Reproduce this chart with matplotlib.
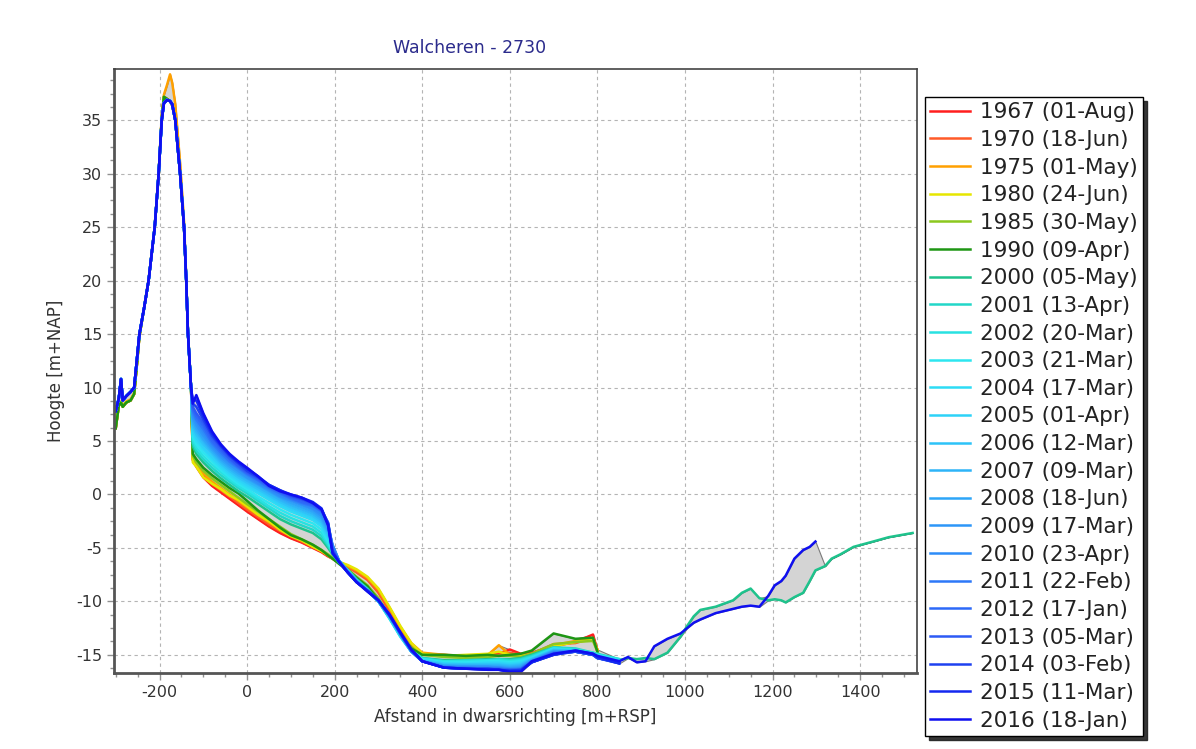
import numpy as np
import matplotlib
matplotlib.use("Agg")
import matplotlib.pyplot as plt
from matplotlib.ticker import MultipleLocator

plt.rcParams["axes.unicode_minus"] = False

# ---------------- data ----------------
labels = ["1967 (01-Aug)", "1970 (18-Jun)", "1975 (01-May)", "1980 (24-Jun)",
          "1985 (30-May)", "1990 (09-Apr)", "2000 (05-May)", "2001 (13-Apr)",
          "2002 (20-Mar)", "2003 (21-Mar)", "2004 (17-Mar)", "2005 (01-Apr)",
          "2006 (12-Mar)", "2007 (09-Mar)", "2008 (18-Jun)", "2009 (17-Mar)",
          "2010 (23-Apr)", "2011 (22-Feb)", "2012 (17-Jan)", "2013 (05-Mar)",
          "2014 (03-Feb)", "2015 (11-Mar)", "2016 (18-Jan)"]

colors = ["#ff1e1e", "#ff5a28", "#ffa000", "#e6e600", "#8cc81e", "#1e9614",
          "#1ec38c", "#22d7c8", "#28e1e1", "#2de6f0", "#2ddcf5", "#2dd2f8",
          "#2dc3f8", "#2db4f8", "#2da5f8", "#2d96f8", "#2d8cf8", "#2d78f8",
          "#2d69f8", "#2d5af5", "#1e41f0", "#1428f0", "#0f0ff0"]

# dune section (surveys coincide closely)
dune_x = [-300, -293, -288, -284, -276, -266, -258, -252, -246, -235, -225, -211,
          -202, -195, -190, -183, -176, -171, -164, -153, -144, -139, -135, -128]
dune_old = [6.2, 8.3, 8.6, 8.2, 8.6, 8.8, 9.4, 12.0, 14.8, 17.5, 20.0, 25.0,
            30.0, 35.2, 37.2, 37.0, 36.8, 36.4, 35.0, 30.0, 25.0, 20.0, 15.0, 10.0]
dune_1975 = [6.8, 8.4, 8.7, 8.3, 8.7, 8.9, 9.5, 12.1, 14.9, 17.6, 20.1, 25.1,
             30.1, 35.3, 37.4, 38.3, 39.3, 38.5, 36.5, 31.0, 25.5, 20.3, 15.2, 10.0]
dune_new = [7.8, 9.0, 10.8, 8.8, 9.2, 9.6, 10.0, 12.5, 15.0, 17.5, 20.0, 25.0,
            30.0, 35.0, 36.6, 36.9, 36.8, 36.5, 35.0, 30.0, 25.0, 20.0, 15.0, 10.0]

# beach / shoreface section
beach_x = [-124, -116, -100, -80, -60, -40, -20, 0, 25, 50, 75, 100, 125, 150, 170,
           185, 195, 210, 230, 250, 275, 300, 325, 350, 375, 400, 450, 500, 550,
           575, 600, 625, 650, 700, 750, 790, 800, 850]
nan = np.nan
y1967 = [3.2, 2.6, 1.6, 0.8, 0.2, -0.4, -1.0, -1.6, -2.3, -3.0, -3.6, -4.1, -4.5, -5.0, -5.4, -5.8, -6.0, -6.4, -6.8, -7.2, -7.9, -9.1, -10.8, -12.6, -14.0, -14.9, -15.1, -15.2, -15.0, -14.9, -14.5, -14.9, -14.8, -14.2, -13.8, -13.1, -14.6, nan]
y1970 = [3.3, 2.7, 1.8, 1.0, 0.4, -0.2, -0.8, -1.4, -2.1, -2.8, -3.4, -3.9, -4.4, -4.9, -5.3, -5.7, -6.0, -6.4, -6.8, -7.3, -8.0, -9.2, -10.9, -12.7, -14.0, -14.9, -15.0, -15.2, -15.1, -15.0, -14.8, -15.0, -14.9, -14.0, -13.9, -13.4, -14.5, nan]
y1975 = [3.4, 2.8, 2.0, 1.2, 0.6, 0.0, -0.6, -1.2, -1.9, -2.6, -3.2, -3.8, -4.3, -4.8, -5.3, -5.7, -6.0, -6.3, -6.7, -7.1, -7.8, -8.9, -10.6, -12.4, -13.9, -14.8, -15.0, -15.1, -15.0, -14.1, -15.0, -15.1, -14.9, -14.1, -13.7, -13.5, -14.5, nan]
y1980 = [3.0, 2.6, 1.6, 1.0, 0.5, -0.1, -0.5, -1.1, -1.9, -2.5, -3.3, -3.9, -4.3, -4.9, -5.3, -5.7, -6.0, -6.3, -6.6, -7.0, -7.7, -8.8, -10.5, -12.3, -13.9, -14.9, -15.1, -15.0, -14.9, -14.7, -15.0, -15.1, -15.0, -14.2, -13.8, -13.6, -14.6, nan]
y1985 = [3.6, 3.0, 2.2, 1.5, 0.9, 0.3, -0.3, -0.9, -1.6, -2.3, -3.0, -3.7, -4.2, -4.7, -5.2, -5.6, -5.9, -6.4, -7.0, -7.7, -8.5, -9.7, -11.3, -13.0, -14.3, -15.0, -15.2, -15.3, -15.2, -15.1, -15.1, -15.2, -14.9, -14.0, -13.8, -13.7, -14.7, nan]
y1990 = [3.8, 3.3, 2.5, 1.8, 1.2, 0.6, 0.1, -0.6, -1.5, -2.3, -3.1, -3.8, -4.2, -4.7, -5.2, -5.7, -6.0, -6.5, -7.1, -7.8, -8.6, -9.9, -11.5, -13.2, -14.4, -15.0, -15.0, -15.1, -15.0, -15.1, -15.0, -14.9, -14.6, -13.0, -13.5, -13.4, -14.7, nan]
y2000 = [4.5, 3.8, 3.0, 2.2, 1.5, 0.9, 0.3, -0.2, -0.9, -1.6, -2.3, -2.8, -3.2, -3.6, -4.2, -5.0, -5.6, -6.4, -7.1, -7.9, -8.8, -10.0, -11.5, -13.2, -14.6, -15.3, -15.5, -15.5, -15.4, -15.4, -15.4, -15.3, -15.0, -14.3, -14.5, -14.9, -15.0, -15.5]
y2001 = [4.8, 4.1, 3.3, 2.5, 1.8, 1.2, 0.6, 0.1, -0.6, -1.3, -2.0, -2.5, -2.9, -3.3, -3.9, -4.8, -5.5, -6.3, -7.1, -8.0, -8.9, -10.0, -11.5, -13.2, -14.6, -15.3, -15.6, -15.5, -15.5, -15.4, -15.5, -15.4, -15.1, -14.3, -14.4, -14.8, -14.9, -15.4]
y2002 = [5.1, 4.4, 3.6, 2.8, 2.1, 1.4, 0.8, 0.3, -0.4, -1.1, -1.7, -2.2, -2.6, -3.0, -3.6, -4.6, -5.4, -6.2, -7.1, -8.0, -8.9, -10.0, -11.6, -13.3, -14.7, -15.4, -15.6, -15.6, -15.5, -15.5, -15.6, -15.5, -15.2, -14.4, -14.5, -14.8, -15.0, -15.4]
y2003 = [5.4, 4.7, 3.9, 3.1, 2.3, 1.6, 1.0, 0.5, -0.2, -0.8, -1.4, -1.9, -2.3, -2.7, -3.3, -4.4, -5.3, -6.2, -7.1, -8.0, -8.9, -10.0, -11.6, -13.3, -14.7, -15.4, -15.7, -15.7, -15.6, -15.6, -15.7, -15.6, -15.3, -14.4, -14.6, -14.9, -15.0, -15.5]
y2004 = [5.7, 5.0, 4.2, 3.3, 2.5, 1.8, 1.2, 0.7, 0.1, -0.5, -1.1, -1.6, -2.0, -2.4, -3.0, -4.1, -5.2, -6.2, -7.2, -8.1, -9.0, -10.0, -11.5, -13.2, -14.7, -15.5, -15.8, -15.8, -15.7, -15.7, -15.8, -15.7, -15.3, -14.5, -14.6, -14.9, -15.1, -15.5]
y2005 = [6.0, 5.3, 4.4, 3.5, 2.7, 2.0, 1.4, 0.9, 0.3, -0.3, -0.9, -1.4, -1.8, -2.2, -2.8, -3.9, -5.1, -6.2, -7.2, -8.1, -9.0, -10.0, -11.5, -13.2, -14.7, -15.5, -15.8, -15.9, -15.8, -15.8, -15.9, -15.8, -15.4, -14.5, -14.6, -14.9, -15.1, -15.6]
y2006 = [6.3, 5.6, 4.7, 3.8, 2.9, 2.2, 1.6, 1.1, 0.5, -0.1, -0.7, -1.2, -1.6, -2.0, -2.6, -3.7, -5.0, -6.2, -7.2, -8.1, -9.0, -10.0, -11.4, -13.1, -14.7, -15.6, -15.9, -15.9, -15.9, -15.9, -16.0, -15.9, -15.4, -14.6, -14.6, -14.9, -15.1, -15.6]
y2007 = [6.6, 5.9, 5.0, 4.0, 3.1, 2.4, 1.8, 1.3, 0.7, 0.1, -0.5, -1.0, -1.4, -1.8, -2.4, -3.5, -4.9, -6.2, -7.2, -8.1, -9.0, -10.0, -11.4, -13.1, -14.7, -15.6, -16.0, -16.0, -16.0, -16.0, -16.1, -16.0, -15.5, -14.6, -14.7, -14.9, -15.2, -15.6]
y2008 = [6.9, 6.2, 5.2, 4.2, 3.3, 2.6, 2.0, 1.5, 0.9, 0.3, -0.3, -0.8, -1.2, -1.6, -2.2, -3.3, -4.8, -6.2, -7.2, -8.1, -9.0, -10.0, -11.4, -13.1, -14.7, -15.6, -16.0, -16.1, -16.1, -16.1, -16.2, -16.1, -15.5, -14.7, -14.7, -15.0, -15.2, -15.6]
y2009 = [7.2, 6.5, 5.5, 4.4, 3.5, 2.8, 2.2, 1.6, 1.0, 0.4, -0.2, -0.6, -1.0, -1.4, -2.0, -3.1, -4.7, -6.2, -7.2, -8.1, -9.0, -10.0, -11.3, -13.0, -14.6, -15.6, -16.1, -16.1, -16.1, -16.2, -16.3, -16.2, -15.6, -14.7, -14.7, -15.0, -15.2, -15.7]
y2010 = [7.5, 6.8, 5.8, 4.6, 3.7, 3.0, 2.4, 1.8, 1.1, 0.5, -0.1, -0.5, -0.9, -1.3, -1.8, -2.9, -4.7, -6.2, -7.2, -8.1, -9.0, -9.9, -11.3, -13.0, -14.6, -15.6, -16.1, -16.2, -16.2, -16.2, -16.3, -16.3, -15.6, -14.8, -14.7, -15.0, -15.3, -15.7]
y2011 = [7.8, 7.0, 6.1, 4.8, 3.9, 3.1, 2.5, 1.9, 1.3, 0.6, 0.1, -0.4, -0.8, -1.1, -1.6, -2.7, -4.9, -6.3, -7.3, -8.2, -9.0, -9.9, -11.3, -13.0, -14.6, -15.6, -16.2, -16.2, -16.3, -16.3, -16.4, -16.3, -15.6, -14.8, -14.7, -15.0, -15.3, -15.7]
y2012 = [8.0, 7.3, 6.4, 5.0, 4.1, 3.3, 2.6, 2.0, 1.4, 0.7, 0.2, -0.3, -0.7, -1.0, -1.5, -2.6, -5.1, -6.3, -7.3, -8.2, -9.0, -9.9, -11.3, -13.0, -14.6, -15.6, -16.2, -16.3, -16.3, -16.3, -16.4, -16.4, -15.7, -14.9, -14.7, -15.0, -15.3, -15.7]
y2013 = [8.2, 7.6, 6.7, 5.3, 4.3, 3.4, 2.7, 2.1, 1.5, 0.8, 0.3, -0.2, -0.5, -0.9, -1.5, -2.7, -5.2, -6.3, -7.3, -8.2, -9.0, -9.9, -11.3, -13.0, -14.6, -15.6, -16.2, -16.3, -16.3, -16.4, -16.4, -16.4, -15.7, -14.9, -14.7, -15.0, -15.3, -15.8]
y2014 = [8.5, 8.2, 7.0, 5.5, 4.5, 3.6, 2.9, 2.2, 1.6, 0.9, 0.4, -0.1, -0.4, -0.8, -1.4, -2.8, -5.3, -6.3, -7.3, -8.2, -9.0, -9.9, -11.3, -13.0, -14.6, -15.6, -16.2, -16.3, -16.3, -16.4, -16.5, -16.4, -15.7, -15.0, -14.7, -15.0, -15.3, -15.8]
y2015 = [8.8, 8.8, 7.3, 5.7, 4.6, 3.7, 3.0, 2.4, 1.7, 0.9, 0.4, 0.0, -0.3, -0.7, -1.3, -2.8, -5.4, -6.3, -7.3, -8.2, -9.0, -9.9, -11.3, -12.9, -14.5, -15.6, -16.2, -16.3, -16.4, -16.4, -16.5, -16.5, -15.7, -15.0, -14.6, -14.9, -15.2, -15.8]
y2016 = [8.5, 9.3, 7.6, 5.9, 4.7, 3.8, 3.1, 2.5, 1.7, 0.8, 0.3, 0.0, -0.3, -0.8, -1.4, -2.9, -5.5, -6.3, -7.3, -8.2, -9.1, -9.9, -11.2, -12.9, -14.5, -15.6, -16.2, -16.3, -16.4, -16.4, -16.6, -16.6, -15.6, -14.9, -14.6, -14.9, -15.1, -15.6]

# seaward extension (only 2000 and 2016 surveyed)
ext_x = [870, 890, 910, 930, 960, 990, 1005, 1020, 1035, 1070, 1110, 1130, 1150,
         1170, 1190, 1205, 1220, 1230, 1250, 1270, 1285, 1298, 1320, 1335, 1355,
         1385, 1430, 1465, 1520]
ext_2000 = [-15.3, -15.4, -15.3, -15.4, -14.8, -13.3, -12.3, -11.4, -10.8, -10.5,
            -9.9, -9.2, -8.8, -9.7, -9.9, -9.8, -9.9, -10.1, -9.6, -9.2, -8.1, -7.1,
            -6.7, -6.0, -5.6, -4.9, -4.4, -4.0, -3.6]
ext_2016 = [-15.2, -15.7, -15.6, -14.2, -13.5, -13.0, -12.5, -12.0, -11.7, -11.1,
            -10.7, -10.5, -10.4, -10.5, -9.5, -8.5, -8.1, -7.6, -6.0, -5.2, -4.9, -4.4,
            nan, nan, nan, nan, nan, nan, nan]

beach_series = [y1967, y1970, y1975, y1980, y1985, y1990, y2000, y2001, y2002, y2003,
                y2004, y2005, y2006, y2007, y2008, y2009, y2010, y2011, y2012, y2013,
                y2014, y2015, y2016]
no_ext = [nan] * len(ext_x)

# ---------------- assemble ----------------
x_all = np.array(dune_x + beach_x + ext_x, dtype=float)
profiles = []
for i, yb in enumerate(beach_series):
    if i < 6:
        dune = dune_1975 if i == 2 else dune_old
    else:
        dune = dune_new
    if i == 6:
        ext = ext_2000
    elif i == 22:
        ext = ext_2016
    else:
        ext = no_ext
    profiles.append(np.array(dune + yb + ext, dtype=float))

stack = np.vstack(profiles)
lo = np.nanmin(stack, axis=0)
hi = np.nanmax(stack, axis=0)

# ---------------- plot ----------------
W, H = 1196, 749
fig = plt.figure(figsize=(W / 100, H / 100), dpi=100)
ax = fig.add_axes([114 / W, 1 - 673 / H, (917 - 114) / W, (673 - 69) / H])

ax.fill_between(x_all, lo, hi, facecolor="#d4d4d4", edgecolor="#7a7a7a",
                linewidth=0.8, zorder=1)
for lab, col, yy in zip(labels, colors, profiles):
    ax.plot(x_all, yy, color=col, lw=1.8, label=lab, zorder=2,
            solid_joinstyle="round")

ax.set_xlim(-304, 1530)
ax.set_ylim(-16.7, 39.8)
ax.xaxis.set_major_locator(MultipleLocator(200))
ax.xaxis.set_minor_locator(MultipleLocator(50))
ax.yaxis.set_major_locator(MultipleLocator(5))
ax.yaxis.set_minor_locator(MultipleLocator(1.25))
ax.grid(True, which="major", color="#b4b4b4", linestyle=(0, (3, 3)), lw=0.8)
ax.set_axisbelow(True)
ax.tick_params(which="both", direction="out", color="#909090", labelcolor="#333333",
               labelsize=11.5)
ax.tick_params(which="major", length=5, width=1)
ax.tick_params(which="minor", length=3, width=1)
for s in ["left", "bottom"]:
    ax.spines[s].set_color("#555555")
    ax.spines[s].set_linewidth(2)
for s in ["top", "right"]:
    ax.spines[s].set_color("#444444")
    ax.spines[s].set_linewidth(1.2)

ax.set_xlabel("Afstand in dwarsrichting [m+RSP]", fontsize=12, color="#333333",
              labelpad=6)
ax.set_ylabel("Hoogte [m+NAP]", fontsize=12, color="#333333", labelpad=8)
fig.text(470 / W, 1 - 48 / H, "Walcheren - 2730", ha="center", va="center",
         fontsize=12.5, color="#2b2b8c")

leg = fig.legend(loc="upper left", bbox_to_anchor=(925 / W, 1 - 97 / H),
                 bbox_transform=fig.transFigure, borderaxespad=0,
                 fontsize=15.5, handlelength=1.85, handletextpad=0.45,
                 labelspacing=0.355, borderpad=0.25, fancybox=False,
                 framealpha=1, edgecolor="black",
                 shadow={"ox": 3, "oy": -3, "facecolor": "#202020",
                         "edgecolor": "#202020", "alpha": 0.9})
leg.get_frame().set_linewidth(1.0)
for t in leg.get_texts():
    t.set_color("#222222")

fig.savefig("out.png", dpi=100)
